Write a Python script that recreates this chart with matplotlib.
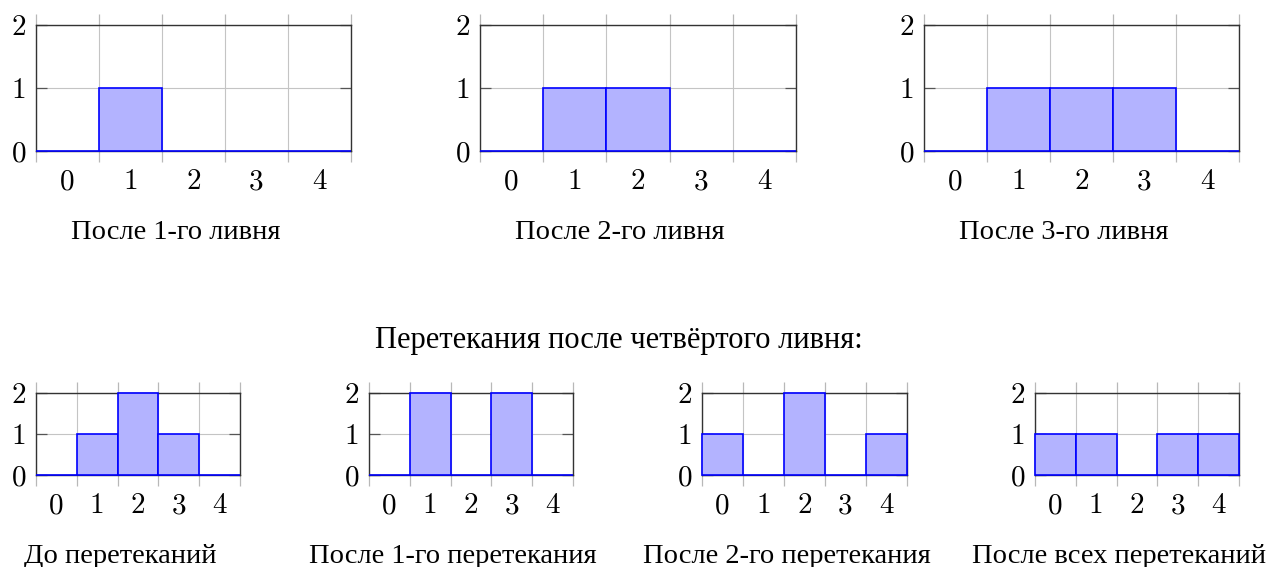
import numpy as np
import matplotlib
matplotlib.use('Agg')
import matplotlib.pyplot as plt

# данные: уровни воды в пяти ячейках
cells = [0, 1, 2, 3, 4]
rain1 = [0, 1, 0, 0, 0]
rain2 = [0, 1, 1, 0, 0]
rain3 = [0, 1, 1, 1, 0]
before = [0, 1, 2, 1, 0]
after1 = [0, 2, 0, 2, 0]
after2 = [1, 0, 2, 0, 1]
after_all = [1, 1, 0, 1, 1]

top_titles = ['После 1-го ливня', 'После 2-го ливня', 'После 3-го ливня']
bottom_titles = ['До перетеканий', 'После 1-го перетекания',
                 'После 2-го перетекания', 'После всех перетеканий']
heading = 'Перетекания после четвёртого ливня:'

plt.rcParams['axes.formatter.use_mathtext'] = True
plt.rcParams['mathtext.fontset'] = 'cm'

W, H = 1268, 567
fig = plt.figure(figsize=(W/100, H/100), dpi=100)

title_font = ['Liberation Serif', 'DejaVu Serif']
fs_tick = 21
fs_title = 20.5


def px_axes(l, t, r, b):
    return fig.add_axes([l/W, 1 - b/H, (r - l)/W, (b - t)/H])


def draw(l, t, r, b, values, title, title_y):
    ax = px_axes(l, t, r, b)
    edges = np.arange(len(cells) + 1)
    ax.bar(cells, values, width=1.0, align='edge', color='#b3b3ff',
           edgecolor='#0000ff', linewidth=1.2, zorder=3, clip_on=False)
    ax.set_xlim(0, len(cells))
    ax.set_ylim(0, 2)
    ax.set_axisbelow(True)
    ax.set_xticks(edges, labels=[])
    ax.set_xticks(np.array(cells) + 0.5, labels=[str(c) for c in cells],
                  minor=True)
    ax.set_yticks([0, 1, 2], labels=['0', '1', '2'])
    ax.tick_params(axis='x', which='major', direction='out', length=8,
                   width=0.9, color='#b8b8b8', top=True, bottom=True)
    ax.tick_params(axis='x', which='minor', length=0, pad=13)
    ax.tick_params(axis='y', which='major', direction='in', length=8,
                   width=0.9, color='#555555', left=True, right=True, pad=7)
    for lab in ax.get_xticklabels(minor=True) + ax.get_yticklabels():
        lab.set_family('cmr10')
        lab.set_fontsize(fs_tick)
    ax.grid(True, which='major', color='#c4c4c4', linewidth=0.8)
    for sp in ax.spines.values():
        sp.set_color('#333333')
        sp.set_linewidth(1.0)
    cx = (l + r) / 2 - 18
    fig.text(cx/W, 1 - title_y/H, title, ha='center', va='baseline',
             family=title_font, fontsize=fs_title)
    return ax


top_data = [rain1, rain2, rain3]
top_boxes = [(36, 25, 351, 151), (480, 25, 796, 151), (924, 25, 1239, 151)]
for box, vals, ttl in zip(top_boxes, top_data, top_titles):
    draw(*box, vals, ttl, 239)

fig.text(619/W, 1 - 348/H, heading, ha='center', va='baseline',
         family=title_font, fontsize=22)

bottom_data = [before, after1, after2, after_all]
bottom_boxes = [(36, 393, 240, 475), (369, 393, 573, 475),
                (702, 393, 907, 475), (1035, 393, 1239, 475)]
for box, vals, ttl in zip(bottom_boxes, bottom_data, bottom_titles):
    draw(*box, vals, ttl, 563)

plt.savefig('out.png', dpi=100)
